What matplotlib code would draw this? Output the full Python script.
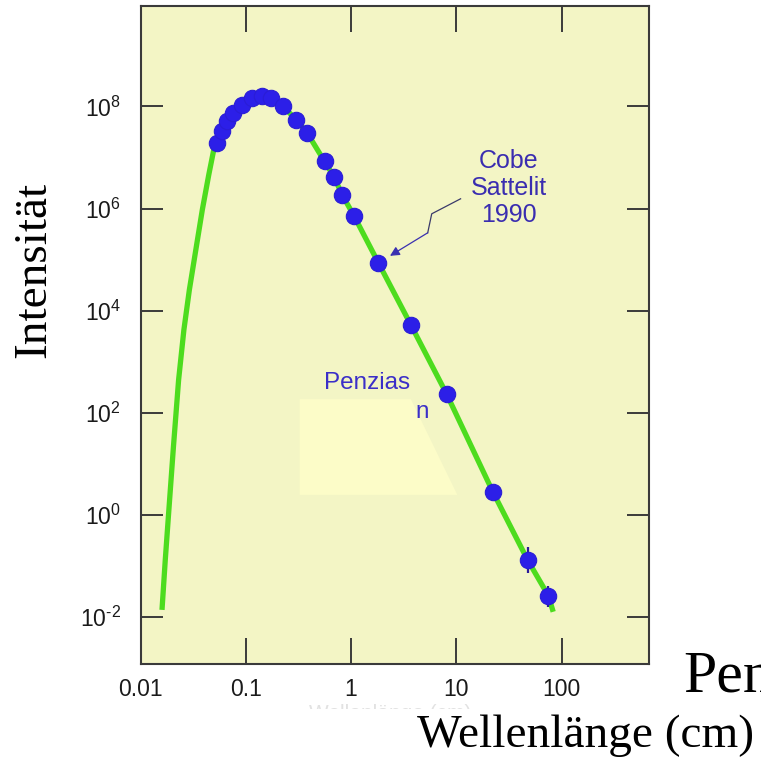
import matplotlib
matplotlib.use('Agg')
import matplotlib.pyplot as plt
from matplotlib.ticker import FixedLocator, FixedFormatter, NullLocator
from matplotlib.patches import Polygon
from matplotlib.transforms import Bbox, TransformedBbox

# ---------------- data ----------------
# Planck-like curve (green line)
curve_x = [0.0160, 0.01719, 0.01851, 0.02055, 0.02301, 0.02583, 0.02911, 0.03353,
           0.03864, 0.04450, 0.04963,
           0.0530, 0.0590, 0.0659, 0.0762, 0.0912, 0.1135, 0.141, 0.175, 0.226,
           0.302, 0.384, 0.560, 0.686, 0.822, 1.074, 1.81, 3.69, 8.08, 22.1,
           47.4, 74.8, 83.0]
curve_y = [0.01352, 0.1294, 1.08, 21.3, 437, 4183, 2.546e4, 1.55e5,
           9.43e5, 4.58e6, 1.42e7,
           1.91e7, 3.24e7, 5.08e7, 7.43e7, 1.08e8, 1.46e8, 1.57e8, 1.46e8, 1.0e8,
           5.48e7, 3.0e7, 8.35e6, 4.24e6, 1.86e6, 6.97e5, 8.73e4, 5.25e3, 230, 2.83,
           0.129, 0.0255, 0.0124]

# measured points (blue dots)
pts_x = [0.0530, 0.0590, 0.0659, 0.0762, 0.0912, 0.1135, 0.141, 0.175, 0.226,
         0.302, 0.384, 0.560, 0.686, 0.822, 1.074, 1.81, 3.69, 8.08, 22.1,
         47.4, 74.8]
pts_y = [1.91e7, 3.24e7, 5.08e7, 7.43e7, 1.08e8, 1.46e8, 1.57e8, 1.46e8, 1.0e8,
         5.48e7, 3.0e7, 8.35e6, 4.24e6, 1.86e6, 6.97e5, 8.73e4, 5.25e3, 230, 2.83,
         0.129, 0.0255]

# error bars on the two longest wavelengths
err_x = [47.4, 74.8]
err_y = [0.129, 0.0255]
err_lo = [0.073, 0.0157]
err_hi = [0.23, 0.040]

xtick_vals = [0.01, 0.1, 1, 10, 100]
xtick_labels = ['0.01', '0.1', '1', '10', '100']
ytick_vals = [1e-2, 1e0, 1e2, 1e4, 1e6, 1e8]
ytick_labels = [r'$\mathrm{10^{‐2}}$', r'$\mathrm{10^{0}}$', r'$\mathrm{10^{2}}$',
                r'$\mathrm{10^{4}}$', r'$\mathrm{10^{6}}$', r'$\mathrm{10^{8}}$']

# arrow path (lightning-style) for the Cobe label
arrow_x = [10.96, 5.83, 5.34]
arrow_y = [1.55e6, 7.87e5, 3.34e5]
arrow_tip = (2.34, 1.18e5)

# pale pasted patch
patch_x = [0.325, 3.69, 10.2, 0.325]
patch_y = [183, 183, 2.43, 2.43]

# ---------------- styling ----------------
plt.rcParams['font.family'] = ['Liberation Sans', 'DejaVu Sans']
plt.rcParams['mathtext.fontset'] = 'custom'
plt.rcParams['mathtext.rm'] = 'Liberation Sans'
plt.rcParams['mathtext.it'] = 'Liberation Sans'

W, H = 761, 760
fig = plt.figure(figsize=(7.61, 7.60), dpi=100)
fig.patch.set_facecolor('white')

def fx(px):
    return px / W

def fy(py):
    return 1 - py / H

ax = fig.add_axes([fx(140.5), fy(664), (649 - 140.5) / W, (664 - 6) / H])
ax.set_xscale('log')
ax.set_yscale('log')
ax.set_xlim(0.01, 10 ** 2.829)
ax.set_ylim(10 ** -2.93, 10 ** 9.97)
ax.set_facecolor('#f3f5c5')

for s in ax.spines.values():
    s.set_color('#3a3a3a')
    s.set_linewidth(1.5)

ax.xaxis.set_major_locator(FixedLocator(xtick_vals))
ax.xaxis.set_major_formatter(FixedFormatter(xtick_labels))
ax.xaxis.set_minor_locator(NullLocator())
ax.yaxis.set_major_locator(FixedLocator(ytick_vals))
ax.yaxis.set_major_formatter(FixedFormatter(ytick_labels))
ax.yaxis.set_minor_locator(NullLocator())
ax.tick_params(axis='x', which='major', direction='in', length=19, width=1.4,
               top=True, pad=10, labelsize=16.5, colors='#3a3a3a', labelcolor='#1a1a1a')
ax.tick_params(axis='y', which='major', direction='in', length=16, width=1.4,
               right=True, pad=14, labelsize=16.5, colors='#3a3a3a', labelcolor='#1a1a1a')

# pale patch
ax.add_patch(Polygon(list(zip(patch_x, patch_y)), closed=True,
                     facecolor='#fcfcc8', edgecolor='none', zorder=1.2))

# curve and points
ax.plot(curve_x, curve_y, color='#4ddc1e', lw=3.8, solid_joinstyle='round',
        solid_capstyle='butt', zorder=2)
ax.errorbar(err_x, err_y,
            yerr=[[y - lo for y, lo in zip(err_y, err_lo)],
                  [hi - y for y, hi in zip(err_y, err_hi)]],
            fmt='none', ecolor='#2a1a9a', elinewidth=1.6, capsize=0, zorder=2.5)
ax.plot(pts_x, pts_y, 'o', ms=11.8, color='#2c1fe8', mec='#2a1dd6', mew=0.8,
        zorder=3)

# arrow
ax.plot(arrow_x, arrow_y, color='#3a3a6a', lw=0.9, zorder=3)
ax.annotate('', xy=arrow_tip, xytext=(arrow_x[-1], arrow_y[-1]),
            arrowprops=dict(arrowstyle='-|>', color='#3a30b0', lw=0.9,
                            mutation_scale=14, shrinkA=0, shrinkB=0),
            zorder=3)

# annotations
txt_col = '#3a2db0'
fig.text(fx(509), fy(188), 'Cobe\nSattelit\n1990', ha='center', va='center',
         fontsize=18, color=txt_col, linespacing=1.15)
fig.text(fx(367), fy(383), 'Penzias', ha='center', va='center',
         fontsize=17.5, color='#3b2fc8')
fig.text(fx(422), fy(412), 'n', ha='center', va='center',
         fontsize=17.5, color='#3b2fc8')

# axis titles (large serif)
fig.text(fx(34), fy(270), 'Intensität', rotation=90, ha='center', va='center',
         fontsize=34, family=['Liberation Serif', 'DejaVu Serif'], color='black')
fig.text(fx(417), fy(747), 'Wellenlänge (cm)', ha='left', va='baseline',
         fontsize=34, family=['Liberation Serif', 'DejaVu Serif'], color='black')
fig.text(fx(683), fy(692), 'Penzias', ha='left', va='baseline',
         fontsize=43, family=['Liberation Serif', 'DejaVu Serif'], color='black')

# faint remnant of original small label (only its top survives)
t = fig.text(fx(390), fy(719), 'Wellenlänge (cm)', ha='center', va='baseline',
             fontsize=15, color='#e2e2e2')
clip = TransformedBbox(Bbox([[fx(280), fy(709)], [fx(500), fy(701)]]), fig.transFigure)
t.set_clip_box(clip)
t.set_clip_on(True)

fig.savefig('out.png', dpi=100)
